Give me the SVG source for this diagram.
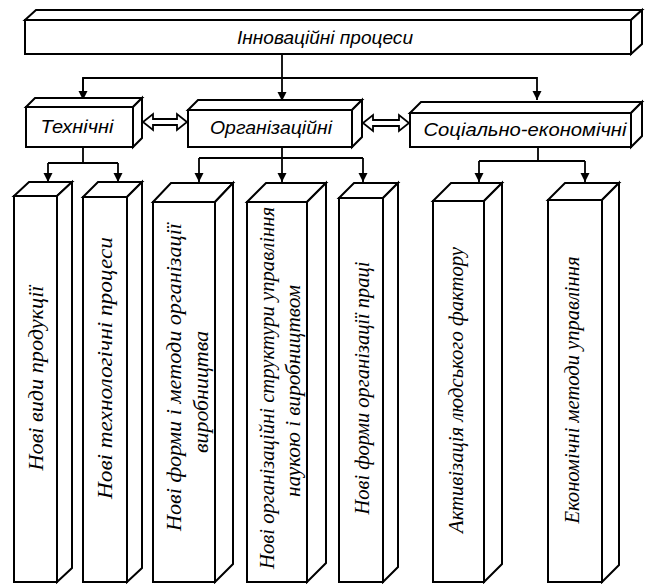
<svg xmlns="http://www.w3.org/2000/svg" width="649" height="584" viewBox="0 0 649 584">
<style>
.bx{fill:#fff;stroke:#000;stroke-width:2;stroke-linejoin:miter}
.ln{fill:none;stroke:#000;stroke-width:1.8}
.da{fill:#fff;stroke:#000;stroke-width:1.8;stroke-linejoin:miter}
.hd{font-family:"Liberation Sans",Arial,sans-serif;font-style:italic;font-size:19px;fill:#000;text-anchor:middle}
.cl{font-family:"Liberation Serif","Times New Roman",serif;font-style:italic;font-size:20px;fill:#000;text-anchor:middle}
</style>
<defs>
<marker id="ah" viewBox="0 0 10 10" refX="10" refY="5" markerWidth="9" markerHeight="10" markerUnits="userSpaceOnUse" orient="auto">
<path d="M0,0 L10,5 L0,10 Z" fill="#000"/>
</marker>
</defs>
<rect width="649" height="584" fill="#fff"/>

<g id="connectors">
<path class="ln" d="M282,54 V101" marker-end="url(#ah)"/>
<path class="ln" d="M83,100 V78 H537 V100" marker-end="url(#ah)"/>
<path class="ln" d="M83,78 V100" marker-end="url(#ah)"/>
<path class="ln" d="M83,147 V163 M48,163 H118"/>
<path class="ln" d="M48,163 V182" marker-end="url(#ah)"/>
<path class="ln" d="M118,163 V182" marker-end="url(#ah)"/>
<path class="ln" d="M282,147 V158 M199,158 H363"/>
<path class="ln" d="M199,158 V182" marker-end="url(#ah)"/>
<path class="ln" d="M282,158 V182" marker-end="url(#ah)"/>
<path class="ln" d="M363,158 V182" marker-end="url(#ah)"/>
<path class="ln" d="M538,147 V161 M479,161 H585"/>
<path class="ln" d="M479,161 V182" marker-end="url(#ah)"/>
<path class="ln" d="M585,161 V182" marker-end="url(#ah)"/>
<polygon class="da" points="143,122 153,114 153,119 177,119 177,114 187,122 177,130 177,125 153,125 153,130"/>
<polygon class="da" points="363,123 373,115 373,120 399,120 399,115 409,123 399,131 399,126 373,126 373,131"/>
</g>

<g id="n-top">
<polygon class="bx" points="25,20 36,10 642,10 631,20"/>
<polygon class="bx" points="631,20 642,10 642,44 631,54"/>
<rect class="bx" x="25" y="20" width="606" height="34"/>
<text class="hd" x="325" y="44" textLength="176" lengthAdjust="spacingAndGlyphs">Інноваційні процеси</text>
</g>

<g id="n-tech">
<polygon class="bx" points="26,107 35,98 142,98 133,107"/>
<polygon class="bx" points="133,107 142,98 142,138 133,147"/>
<rect class="bx" x="26" y="107" width="107" height="40"/>
<text class="hd" x="77" y="133" textLength="73" lengthAdjust="spacingAndGlyphs">Технічні</text>
</g>

<g id="n-org">
<polygon class="bx" points="188,110 198,100 362,100 352,110"/>
<polygon class="bx" points="352,110 362,100 362,137 352,147"/>
<rect class="bx" x="188" y="110" width="164" height="37"/>
<text class="hd" x="271" y="134" textLength="122" lengthAdjust="spacingAndGlyphs">Організаційні</text>
</g>

<g id="n-soc">
<polygon class="bx" points="410,113 421,102 642,102 631,113"/>
<polygon class="bx" points="631,113 642,102 642,136 631,147"/>
<rect class="bx" x="410" y="113" width="221" height="34"/>
<text class="hd" x="525" y="136" textLength="203" lengthAdjust="spacingAndGlyphs">Соціально-економічні</text>
</g>

<g id="c1">
<polygon class="bx" points="14,196 29,182 72,182 57,196"/>
<polygon class="bx" points="57,196 72,182 72,568 57,582"/>
<rect class="bx" x="14" y="196" width="43" height="386"/>
<text class="cl" transform="translate(43,378) rotate(-90)" textLength="185" lengthAdjust="spacingAndGlyphs">Нові види продукції</text>
</g>

<g id="c2">
<polygon class="bx" points="83,197 98,182 142,182 127,197"/>
<polygon class="bx" points="127,197 142,182 142,568 127,582"/>
<rect class="bx" x="83" y="197" width="44" height="385"/>
<text class="cl" transform="translate(112,368) rotate(-90)" textLength="262" lengthAdjust="spacingAndGlyphs">Нові технологічні процеси</text>
</g>

<g id="c3">
<polygon class="bx" points="153,202 171,183 233,183 215,202"/>
<polygon class="bx" points="215,202 233,183 233,564 215,582"/>
<rect class="bx" x="153" y="202" width="62" height="380"/>
<text class="cl" transform="translate(181,377) rotate(-90)" textLength="308" lengthAdjust="spacingAndGlyphs">Нові форми і методи організації</text>
<text class="cl" transform="translate(208,392) rotate(-90)" textLength="122" lengthAdjust="spacingAndGlyphs">виробництва</text>
</g>

<g id="c4">
<polygon class="bx" points="247,202 266,183 326,183 307,202"/>
<polygon class="bx" points="307,202 326,183 326,563 307,582"/>
<rect class="bx" x="247" y="202" width="60" height="380"/>
<text class="cl" transform="translate(274,388) rotate(-90)" textLength="362" lengthAdjust="spacingAndGlyphs">Нові організаційні структури управління</text>
<text class="cl" transform="translate(300,391) rotate(-90)" textLength="212" lengthAdjust="spacingAndGlyphs">наукою і виробництвом</text>
</g>

<g id="c5">
<polygon class="bx" points="339,198 354,183 398,183 383,198"/>
<polygon class="bx" points="383,198 398,183 398,567 383,582"/>
<rect class="bx" x="339" y="198" width="44" height="384"/>
<text class="cl" transform="translate(369,388) rotate(-90)" textLength="253" lengthAdjust="spacingAndGlyphs">Нові форми організації праці</text>
</g>

<g id="c6">
<polygon class="bx" points="433,201 451,183 502,183 484,201"/>
<polygon class="bx" points="484,201 502,183 502,564 484,582"/>
<rect class="bx" x="433" y="201" width="51" height="381"/>
<text class="cl" transform="translate(463,390) rotate(-90)" textLength="286" lengthAdjust="spacingAndGlyphs">Активізація людського фактору</text>
</g>

<g id="c7">
<polygon class="bx" points="548,200 565,183 619,183 602,200"/>
<polygon class="bx" points="602,200 619,183 619,565 602,582"/>
<rect class="bx" x="548" y="200" width="54" height="382"/>
<text class="cl" transform="translate(579,390) rotate(-90)" textLength="267" lengthAdjust="spacingAndGlyphs">Економічні методи управління</text>
</g>
</svg>
